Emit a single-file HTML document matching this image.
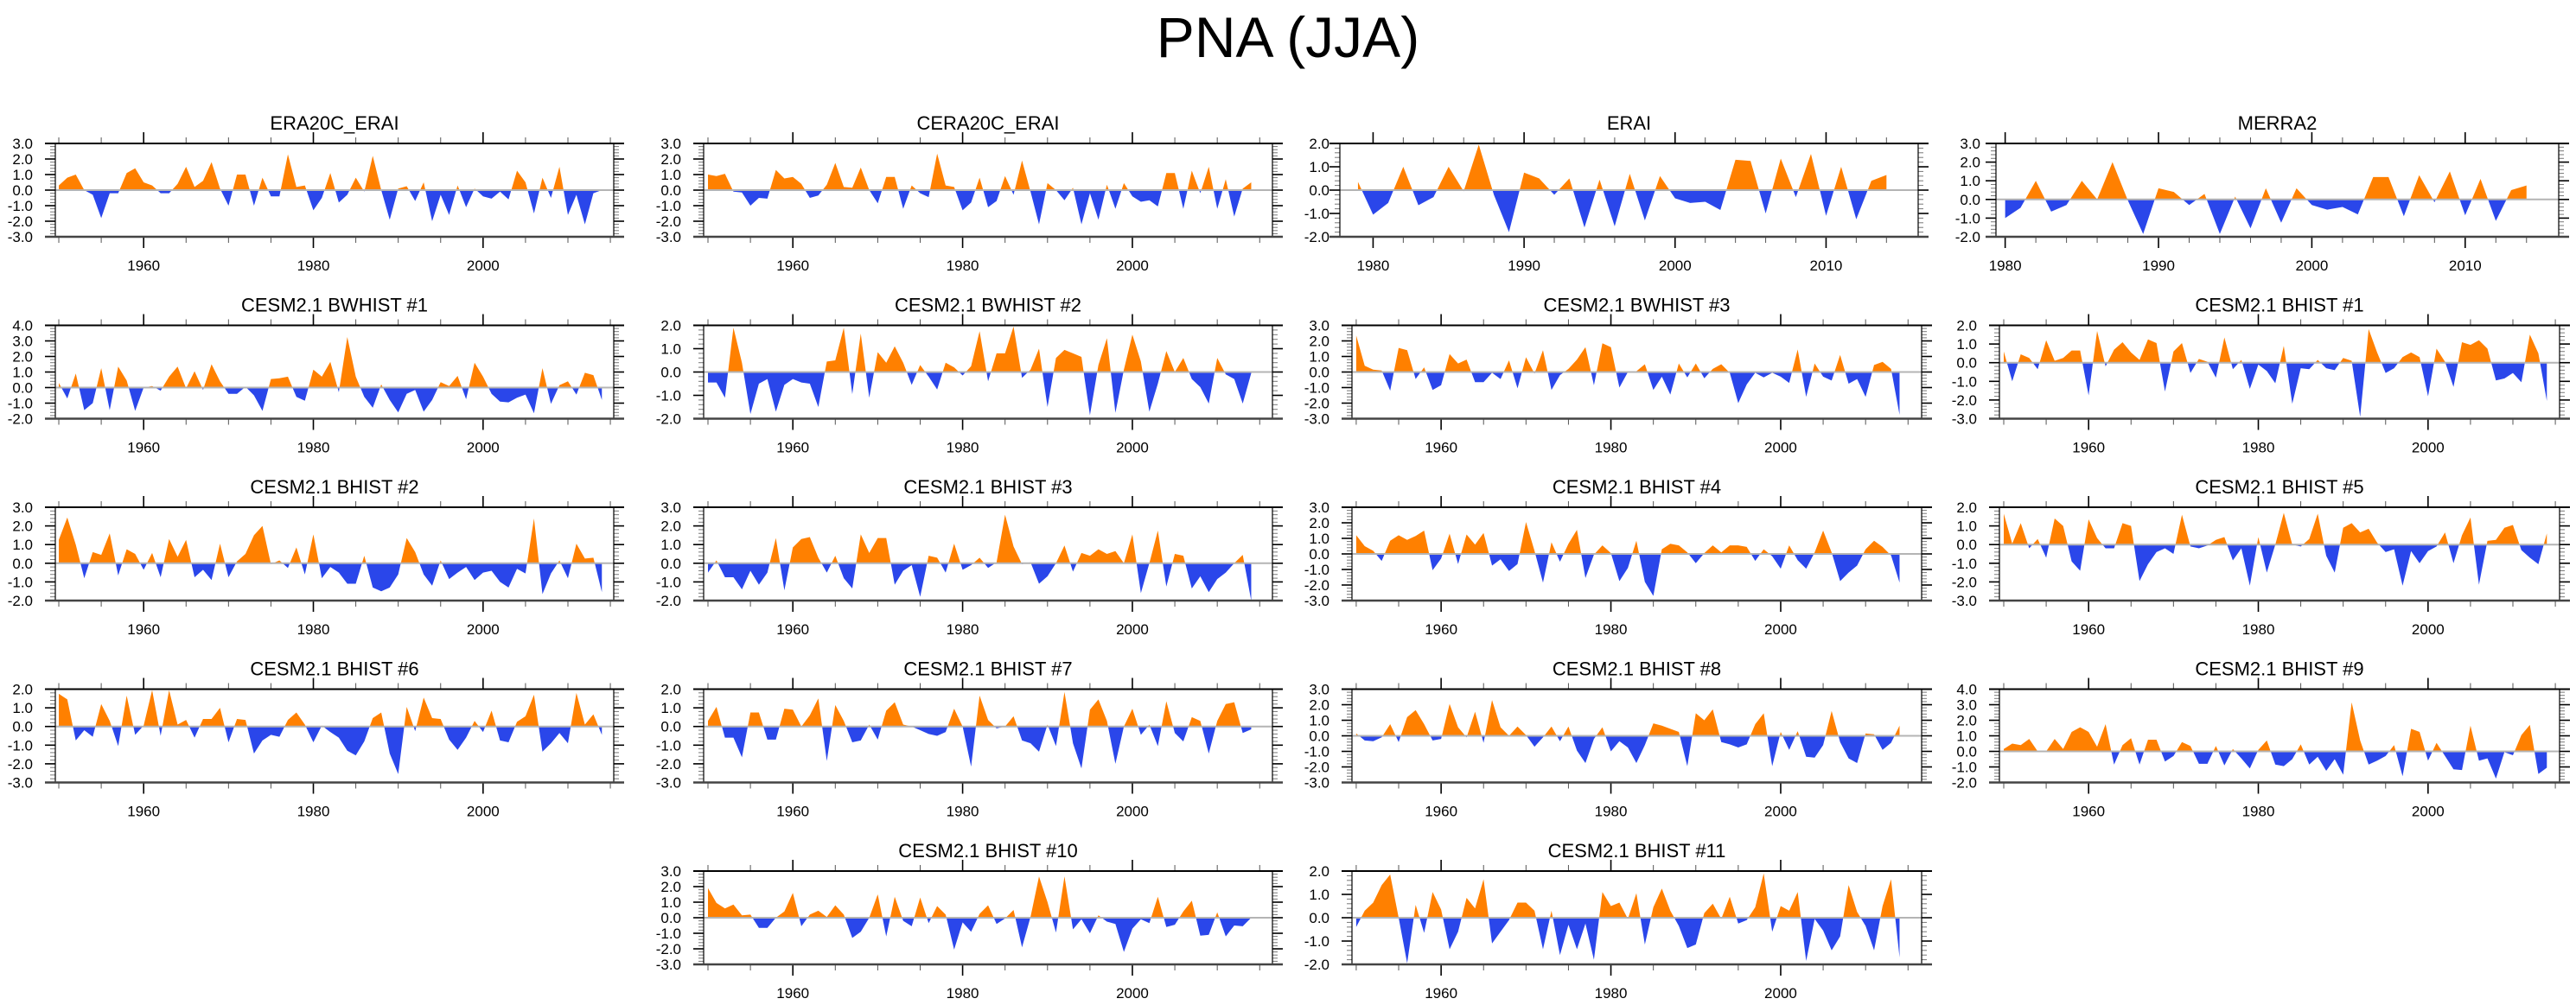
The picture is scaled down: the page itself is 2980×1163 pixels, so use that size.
<!DOCTYPE html>
<html>
<head>
<meta charset="utf-8">
<style>
  html,body{margin:0;padding:0;background:#fff;}
  svg{display:block;}
  text{font-family:"Liberation Sans",sans-serif;fill:#000;}
</style>
</head>
<body>
<svg id="chart" width="2980" height="1163" viewBox="0 0 2980 1163" xmlns="http://www.w3.org/2000/svg">
  <rect x="0" y="0" width="2980" height="1163" fill="#fff"/>
  <text x="1490" y="66" font-size="66" text-anchor="middle">PNA (JJA)</text>
  <g id="panels"></g>
</svg>
<script>
// ---- data (annual PNA index values) ----
const yearsFrom1950 = 1950;
const yearsFrom1979 = 1979;
const yearsFrom1980 = 1980;
const era20cErai = [0.3,0.8,1.0,0.0,-0.3,-1.8,-0.2,-0.2,1.1,1.4,0.5,0.3,-0.2,-0.2,0.4,1.5,0.2,0.6,1.8,0.1,-1.0,1.0,1.0,-1.0,0.8,-0.4,-0.4,2.3,0.2,0.3,-1.3,-0.5,1.1,-0.8,-0.3,0.8,-0.1,2.2,0.0,-1.9,0.1,0.25,-0.7,0.5,-2.0,-0.3,-1.6,0.3,-1.1,0.1,-0.4,-0.55,-0.1,-0.6,1.25,0.5,-1.5,0.8,-0.5,1.5,-1.6,-0.3,-2.2,-0.2,0.0];
const cera20cErai = [1.0,0.9,1.05,-0.1,-0.15,-1.0,-0.5,-0.55,1.3,0.75,0.85,0.4,-0.5,-0.35,0.35,1.75,0.2,0.15,1.45,0.0,-0.85,0.85,0.85,-1.2,0.3,-0.2,-0.45,2.35,0.3,0.2,-1.3,-0.8,0.8,-1.1,-0.7,0.9,-0.3,1.9,-0.1,-2.2,0.45,0.0,-0.65,0.15,-2.2,-0.2,-1.9,0.35,-1.2,0.45,-0.4,-0.75,-0.65,-1.05,1.1,1.1,-1.2,1.25,-0.2,1.5,-1.2,0.7,-1.7,0.1,0.5];
const erai = [0.35,-1.05,-0.55,1.0,-0.65,-0.3,1.0,-0.05,1.95,-0.2,-1.8,0.75,0.5,-0.2,0.5,-1.6,0.45,-1.55,0.7,-1.3,0.6,-0.35,-0.55,-0.5,-0.85,1.3,1.25,-1.0,1.35,-0.3,1.55,-1.1,1.0,-1.25,0.4,0.65];
const merra2 = [-1.0,-0.45,1.0,-0.65,-0.3,1.0,0.0,2.0,-0.05,-1.85,0.6,0.4,-0.3,0.3,-1.85,0.15,-1.55,0.6,-1.25,0.6,-0.3,-0.55,-0.4,-0.8,1.2,1.2,-0.9,1.3,-0.15,1.5,-0.85,1.1,-1.15,0.5,0.75];
const bwhist1 = [0.3,-0.7,0.9,-1.45,-1.0,1.25,-1.45,1.35,0.45,-1.5,0.0,0.1,-0.2,0.7,1.35,-0.05,1.05,-0.15,1.5,0.4,-0.4,-0.4,0.05,-0.5,-1.5,0.55,0.6,0.7,-0.6,-0.85,1.15,0.7,1.65,-0.3,3.25,0.7,-0.6,-1.3,0.2,-0.8,-1.6,-0.4,-0.15,-1.55,-0.8,0.35,0.1,0.75,-0.75,1.6,0.7,-0.4,-0.9,-0.95,-0.65,-0.45,-1.65,1.25,-1.05,0.15,0.4,-0.45,0.95,0.8,-0.8];
const bwhist2 = [-0.45,-0.45,-1.1,1.9,0.4,-1.8,-0.5,-0.3,-1.7,-0.55,-0.3,-0.45,-0.5,-1.5,0.45,0.5,1.9,-0.95,1.65,-1.1,0.85,0.4,1.1,0.4,-0.55,0.3,-0.2,-0.75,0.4,0.2,-0.15,0.25,1.75,-0.4,0.8,0.8,1.95,-0.25,0.1,1.0,-1.5,0.6,0.95,0.8,0.65,-1.85,0.3,1.45,-1.75,0.1,1.6,0.45,-1.7,-0.5,0.9,0.0,0.6,-0.3,-0.65,-1.35,0.6,-0.1,-0.3,-1.35,-0.05];
const bwhist3 = [2.35,0.4,0.15,0.1,-1.2,1.55,1.4,-0.45,0.3,-1.15,-0.85,1.15,0.55,0.8,-0.65,-0.65,-0.05,-0.45,0.75,-1.05,0.95,-0.1,1.4,-1.15,-0.2,0.2,0.8,1.6,-0.85,1.85,1.6,-1.0,0.0,0.05,0.5,-1.15,-0.3,-1.45,0.55,-0.35,0.55,-0.4,0.2,0.5,-0.05,-2.0,-0.8,-0.05,-0.35,-0.05,-0.3,-0.7,1.45,-1.6,0.55,-0.3,-0.55,1.1,-0.75,-0.45,-1.6,0.45,0.65,0.2,-2.75];
const bhist1 = [0.6,-1.0,0.45,0.25,-0.35,1.2,0.1,0.25,0.65,0.65,-1.75,1.7,-0.2,0.7,1.1,0.55,0.15,1.25,1.05,-1.55,0.6,1.05,-0.55,0.2,0.05,-0.8,1.35,-0.35,0.15,-1.4,-0.1,-0.45,-1.1,0.9,-2.2,-0.3,-0.35,0.15,-0.3,-0.4,0.25,0.1,-2.9,1.8,0.55,-0.55,-0.3,0.3,0.55,0.3,-1.8,0.75,0.05,-1.3,1.1,0.95,1.2,0.75,-0.95,-0.85,-0.55,-1.05,1.5,0.5,-2.05];
const bhist2 = [1.25,2.45,1.0,-0.8,0.6,0.45,1.6,-0.65,0.75,0.5,-0.35,0.55,-0.75,1.3,0.35,1.25,-0.75,-0.35,-0.9,1.05,-0.75,0.1,0.5,1.5,2.0,-0.05,0.15,-0.25,0.85,-0.6,1.55,-0.8,-0.2,-0.5,-1.1,-1.1,0.4,-1.3,-1.5,-1.3,-0.6,1.35,0.6,-0.6,-1.2,0.15,-0.85,-0.5,-0.2,-0.9,-0.5,-0.4,-1.0,-1.3,-0.3,-0.55,2.4,-1.65,-0.55,0.15,-0.8,1.05,0.25,0.3,-1.55];
const bhist3 = [-0.5,0.15,-0.75,-0.75,-1.4,-0.4,-1.15,-0.5,1.35,-1.45,0.85,1.3,1.4,0.3,-0.5,0.4,-0.8,-1.35,1.55,0.55,1.35,1.35,-1.15,-0.4,-0.1,-1.8,0.4,0.3,-0.5,1.05,-0.35,-0.1,0.3,-0.25,0.05,2.6,0.9,-0.05,0.05,-1.1,-0.7,0.0,0.95,-0.45,0.55,0.4,0.75,0.5,0.65,0.0,1.55,-1.6,0.0,1.75,-1.25,0.5,0.4,-1.35,-0.7,-1.55,-0.85,-0.5,0.0,0.45,-2.0];
const bhist4 = [1.2,0.5,0.2,-0.45,0.85,1.2,0.9,1.15,1.5,-1.05,-0.3,1.3,-0.65,1.25,0.6,1.35,-0.75,-0.35,-1.1,-0.65,2.05,0.2,-1.85,0.75,-0.5,0.65,1.55,-1.55,-0.05,0.55,0.05,-1.75,-0.9,0.85,-1.8,-2.7,0.3,0.65,0.55,0.1,-0.6,0.05,0.55,0.1,0.55,0.55,0.45,-0.45,0.3,-0.15,-0.95,0.55,-0.4,-0.95,0.1,1.5,0.1,-1.75,-1.2,-0.75,0.3,0.85,0.45,-0.1,-1.85];
const bhist5 = [1.65,0.05,1.15,-0.2,0.3,-0.7,1.4,1.0,-0.9,-1.4,1.35,0.35,-0.2,-0.2,1.15,1.0,-1.95,-1.05,-0.4,-0.2,-0.5,1.6,-0.1,-0.2,-0.05,0.25,0.4,-0.85,-0.2,-2.2,0.4,-1.5,0.0,1.7,0.0,-0.1,0.3,1.65,-0.6,-1.5,0.9,1.15,0.65,0.85,0.1,-0.4,-0.25,-2.2,-0.35,-1.0,-0.35,-0.1,0.65,-1.0,0.5,1.45,-2.15,0.2,0.25,0.9,1.05,-0.3,-0.7,-1.05,0.6];
const bhist6 = [1.75,1.45,-0.75,-0.2,-0.55,1.2,0.3,-1.05,1.65,-0.45,0.05,1.95,-0.5,1.95,0.1,0.35,-0.6,0.4,0.4,1.0,-0.85,0.4,0.35,-1.45,-0.75,-0.45,-0.55,0.35,0.75,0.1,-0.85,0.05,-0.3,-0.6,-1.3,-1.55,-0.8,0.45,0.75,-1.45,-2.55,1.05,-0.25,1.55,0.45,0.4,-0.7,-1.25,-0.6,0.3,-0.3,0.85,-0.75,-0.85,0.25,0.55,1.7,-1.35,-0.9,-0.35,-0.9,1.8,0.1,0.65,-0.45];
const bhist7 = [0.3,1.05,-0.6,-0.6,-1.65,0.75,0.75,-0.7,-0.7,0.95,0.9,0.0,0.6,1.5,-1.85,1.15,0.3,-0.85,-0.75,0.1,-0.7,0.85,1.3,0.1,0.0,-0.2,-0.4,-0.5,-0.3,0.95,0.0,-2.15,1.65,0.35,-0.1,0.0,0.55,-0.75,-0.9,-1.35,0.1,-1.05,1.85,-0.9,-2.25,0.9,1.45,0.3,-2.0,0.0,0.95,-0.45,0.1,-1.05,1.35,-0.35,-0.8,0.5,0.3,-1.45,0.3,1.2,1.3,-0.35,-0.15];
const bhist8 = [0.15,-0.3,-0.35,-0.1,0.75,-0.4,1.2,1.65,0.75,-0.3,-0.2,2.05,0.55,-0.1,1.55,-0.45,2.3,0.55,0.0,0.6,0.05,-0.7,-0.1,0.6,-0.35,0.6,-0.95,-1.75,-0.2,0.55,-1.0,-0.35,-0.75,-1.75,-0.6,0.8,0.65,0.45,0.25,-1.95,1.45,1.0,1.7,-0.4,-0.55,-0.75,-0.55,0.75,1.45,-1.95,0.25,-0.9,0.3,-1.35,-1.4,-0.6,1.6,-0.4,-1.45,-1.75,0.15,0.1,-0.9,-0.45,0.65];
const bhist9 = [0.15,0.5,0.4,0.8,0.0,0.0,0.8,0.15,1.25,1.55,1.25,0.3,1.75,-0.85,0.4,0.85,-0.85,0.75,0.75,-0.65,-0.3,0.6,0.35,-0.8,-0.8,0.35,-0.9,0.15,-0.45,-1.1,0.1,0.7,-0.85,-0.95,-0.5,0.45,-0.85,-0.35,-1.25,-0.5,-1.5,3.15,0.7,-0.85,-0.6,-0.3,0.4,-1.6,1.45,1.25,-0.6,0.55,-0.3,-1.15,-1.2,1.65,-0.6,-0.45,-1.75,-0.05,-0.25,1.05,1.7,-1.45,-1.05];
const bhist10 = [1.9,0.95,0.6,0.85,0.15,0.2,-0.65,-0.65,0.0,0.4,1.6,-0.55,0.2,0.45,0.05,0.8,0.2,-1.3,-0.9,0.0,1.5,-1.2,1.35,-0.2,-0.55,1.3,-0.35,0.75,0.2,-2.05,-0.3,-0.9,0.25,0.8,-0.4,-0.05,0.5,-1.9,0.05,2.65,1.0,-0.95,2.65,-0.75,-0.1,-1.0,0.15,-0.25,-0.4,-2.2,-0.7,-0.1,-0.35,1.35,-0.6,-0.45,0.4,1.1,-1.15,-1.1,0.35,-1.2,-0.5,-0.55,0.0];
const bhist11 = [-0.4,0.3,0.65,1.4,1.85,0.0,-1.95,0.55,-0.65,1.1,0.35,-1.35,-0.6,0.85,0.4,1.65,-1.1,-0.6,-0.1,0.65,0.65,0.3,-1.35,0.3,-1.6,-0.3,-1.35,-0.25,-1.8,1.1,0.5,0.65,-0.05,1.05,-1.15,0.45,1.25,0.3,-0.35,-1.3,-1.15,0.2,0.6,-0.05,0.9,-0.25,-0.1,0.45,1.9,-0.6,0.5,0.3,1.1,-1.85,-0.05,-0.55,-1.4,-0.8,1.4,0.25,-0.35,-1.4,0.5,1.65,-1.7];
const panelTitles = ["ERA20C_ERAI","CERA20C_ERAI","ERAI","MERRA2","CESM2.1 BWHIST #1","CESM2.1 BWHIST #2","CESM2.1 BWHIST #3","CESM2.1 BHIST #1","CESM2.1 BHIST #2","CESM2.1 BHIST #3","CESM2.1 BHIST #4","CESM2.1 BHIST #5","CESM2.1 BHIST #6","CESM2.1 BHIST #7","CESM2.1 BHIST #8","CESM2.1 BHIST #9","CESM2.1 BHIST #10","CESM2.1 BHIST #11"];
const panelSeries = [era20cErai,cera20cErai,erai,merra2,bwhist1,bwhist2,bwhist3,bhist1,bhist2,bhist3,bhist4,bhist5,bhist6,bhist7,bhist8,bhist9,bhist10,bhist11];
const panelStartYears = [1950,1950,1979,1980,1950,1950,1950,1950,1950,1950,1950,1950,1950,1950,1950,1950,1950,1950];
const panelYMin = [-3,-3,-2,-2,-2,-2,-3,-3,-2,-2,-3,-3,-3,-3,-3,-2,-3,-2];
const panelYMax = [3,3,2,3,4,2,3,2,3,3,3,2,2,2,3,4,3,2];

// ---- layout (not data) ----
const colFrames = [
  {L:64,R:710,x0:1949.59,x1:2015.4},
  {L:814,R:1472,x0:1949.49,x1:2016.5},
  {L:1564,R:2223,x0:1949.5,x1:2016.6},
  {L:2313,R:2961,x0:1949.49,x1:2015.5}
];
const eraiFrame = {L:1550,R:2219,x0:1977.8,x1:2016.1};
const merraFrame = {L:2309,R:2960,x0:1979.4,x1:2016.1};
const panelCells = [[0,0],[0,1],[0,2],[0,3],[1,0],[1,1],[1,2],[1,3],[2,0],[2,1],[2,2],[2,3],[3,0],[3,1],[3,2],[3,3],[4,1],[4,2]];

const NS = "http://www.w3.org/2000/svg";
const root = document.getElementById("panels");
const ORANGE = "#ff8000", BLUE = "#2a46ea";

function mk(tag, attrs, parent){
  const e = document.createElementNS(NS, tag);
  for (const k in attrs) e.setAttribute(k, attrs[k]);
  parent.appendChild(e);
  return e;
}
function fmt(v){ return v.toFixed(1); }

panelSeries.forEach(function(series, i){
  const row = panelCells[i][0], col = panelCells[i][1];
  let fr = colFrames[col];
  if (i === 2) fr = eraiFrame;
  if (i === 3) fr = merraFrame;
  const short = (i === 2 || i === 3);
  const top = 166 + 210.5 * row, bottom = top + 108;
  const ymin = panelYMin[i], ymax = panelYMax[i];
  const xs = function(yr){ return fr.L + (yr - fr.x0) / (fr.x1 - fr.x0) * (fr.R - fr.L); };
  const ys = function(v){ return bottom - (v - ymin) / (ymax - ymin) * (bottom - top); };
  const y0 = ys(0);

  const g = mk("g", {}, root);
  
  

  const title = mk("text", {x:(fr.L+fr.R)/2, y:top-16, "font-size":22, "text-anchor":"middle"}, g);
  title.textContent = panelTitles[i];
  
  

  // clip paths
  const cid = "c" + i;
  const cpA = mk("clipPath", {id:cid+"a"}, g);
  mk("rect", {x:fr.L, y:top, width:fr.R-fr.L, height:y0-top}, cpA);
  const cpB = mk("clipPath", {id:cid+"b"}, g);
  mk("rect", {x:fr.L, y:y0, width:fr.R-fr.L, height:bottom-y0}, cpB);

  const start = panelStartYears[i];
  let d = "M" + xs(start).toFixed(2) + "," + y0.toFixed(2);
  series.forEach(function(v, k){ d += " L" + xs(start + k).toFixed(2) + "," + ys(v).toFixed(2); });
  d += " L" + xs(start + series.length - 1).toFixed(2) + "," + y0.toFixed(2) + " Z";

  const pos = mk("path", {d:d, fill:ORANGE, "clip-path":"url(#"+cid+"a)"}, g);
  
  
  const neg = mk("path", {d:d, fill:BLUE, "clip-path":"url(#"+cid+"b)"}, g);
  
  

  const zl = mk("line", {x1:fr.L, x2:fr.R, y1:y0, y2:y0, stroke:"#b4b4b4", "stroke-width":2}, g);
  
  

  // y ticks
  const yt = mk("g", {stroke:"#000"}, g);
  
  
  for (let v = ymin; v <= ymax + 1e-6; v += 0.2) {
    const major = Math.abs(v - Math.round(v)) < 1e-6;
    const yy = ys(v);
    const len = major ? 12 : 6;
    mk("line", {x1:fr.L-len, x2:fr.L, y1:yy, y2:yy, "stroke-width": major?1.6:1, stroke: major?"#000":"#777"}, yt);
    mk("line", {x1:fr.R, x2:fr.R+len, y1:yy, y2:yy, "stroke-width": major?1.6:1, stroke: major?"#000":"#777"}, yt);
  }
  const gap = (i === 2) ? 12 : (i === 3 ? 18 : 26);
  for (let v = ymin; v <= ymax; v += 1) {
    const t = mk("text", {x:fr.L-gap, y:ys(v)+6, "font-size":17, "text-anchor":"end"}, g);
    t.textContent = fmt(v);
    
    
  }

  // x ticks
  const xt = mk("g", {stroke:"#000"}, g);
  
  
  let majors, minorStep, minorStart, minorEnd;
  if (short) { majors = [1980,1990,2000,2010]; minorStep = 2; minorStart = 1980; minorEnd = 2014; }
  else { majors = [1960,1980,2000]; minorStep = 5; minorStart = 1950; minorEnd = 2015; }
  for (let yr = minorStart; yr <= minorEnd; yr += minorStep) {
    if (majors.indexOf(yr) >= 0) continue;
    const xx = xs(yr);
    mk("line", {x1:xx, x2:xx, y1:top-7, y2:top, "stroke-width":1, stroke:"#555"}, xt);
    mk("line", {x1:xx, x2:xx, y1:bottom, y2:bottom+7, "stroke-width":1, stroke:"#555"}, xt);
  }
  majors.forEach(function(yr){
    const xx = xs(yr);
    mk("line", {x1:xx, x2:xx, y1:top-13, y2:top, "stroke-width":1.6}, xt);
    mk("line", {x1:xx, x2:xx, y1:bottom, y2:bottom+13, "stroke-width":1.6}, xt);
    const t = mk("text", {x:xx, y:bottom+39, "font-size":17, "text-anchor":"middle"}, g);
    t.textContent = String(yr);
    
    
  });

  // frame
  const f = mk("rect", {x:fr.L, y:top, width:fr.R-fr.L, height:bottom-top, fill:"none", stroke:"#000", "stroke-width":1.2}, g);
  
  
  mk("line", {x1:fr.L-12, x2:fr.R+12, y1:top, y2:top, stroke:"#000", "stroke-width":2}, g);
  mk("line", {x1:fr.L-12, x2:fr.R+12, y1:bottom, y2:bottom, stroke:"#444", "stroke-width":2.5}, g);
});
</script>
</body>
</html>
